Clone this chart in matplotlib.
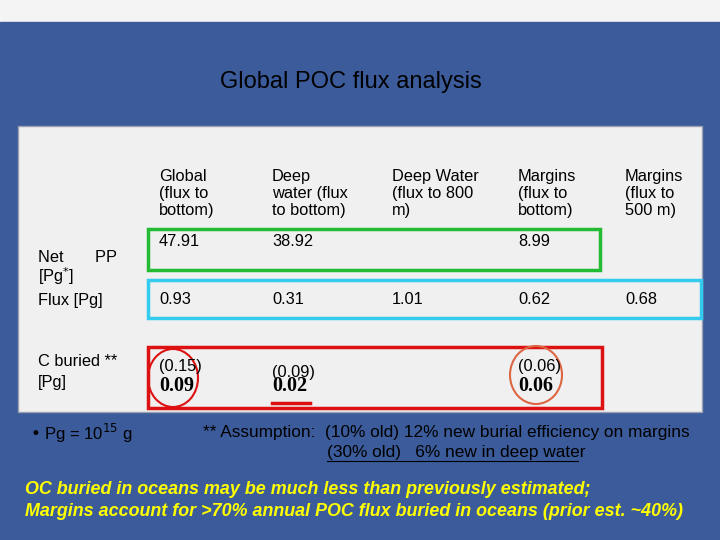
import matplotlib
matplotlib.use("Agg")
import matplotlib.pyplot as plt
from matplotlib.patches import Rectangle, Ellipse

title = "Global POC flux analysis"
headers = ["Global\n(flux to\nbottom)", "Deep\nwater (flux\nto bottom)", "Deep Water\n(flux to 800\nm)", "Margins\n(flux to\nbottom)", "Margins\n(flux to\n500 m)"]
net_pp = ["47.91", "38.92", "", "8.99", ""]
flux = ["0.93", "0.31", "1.01", "0.62", "0.68"]
cburied_old = ["(0.15)", "(0.09)", "", "(0.06)", ""]
cburied_new = ["0.09", "0.02", "", "0.06", ""]

fig = plt.figure(figsize=(7.2, 5.4), dpi=100)
fig.patch.set_facecolor("#3b5b9b")
ax = fig.add_axes([0, 0, 1, 1])
ax.set_xlim(0, 720); ax.set_ylim(540, 0); ax.axis("off")

ax.add_patch(Rectangle((0, 0), 720, 22, color="#f4f4f4"))
ax.add_patch(Rectangle((0, 22), 720, 518, color="#3b5b9b"))
ax.add_patch(Rectangle((18, 126), 684, 286, facecolor="#f0f0f0", edgecolor="#9aa0b0"))
ax.text(351, 82, title, ha="center", va="center", fontsize=17, family="Liberation Sans")

colx = [159, 272, 392, 518, 625]
f = dict(fontsize=11.8, family="Liberation Sans", color="black")
for x, h in zip(colx, headers):
    ax.text(x, 169, h, va="top", ha="left", linespacing=1.15, **f)
ax.text(38, 257, "Net       PP", va="center", **f)
ax.text(38, 276, "[Pg$^{*}$]", va="center", **f)
ax.text(38, 300, "Flux [Pg]", va="center", **f)
ax.text(38, 362, "C buried **", va="center", **f)
ax.text(38, 382, "[Pg]", va="center", **f)
for x, v in zip(colx, net_pp):
    ax.text(x, 241, v, va="center", **f)
for x, v in zip(colx, flux):
    ax.text(x, 300, v, va="center", **f)
for i, (x, a, b) in enumerate(zip(colx, cburied_old, cburied_new)):
    dy = 6 if i == 1 else 0
    ax.text(x, 366 + dy, a, va="center", **f)
    ax.text(x, 386, b, va="center", fontsize=14.5, family="Liberation Serif", fontweight="bold")

ax.add_patch(Rectangle((148, 229), 452, 41, fill=False, ec="#22bb33", lw=2.5))
ax.add_patch(Rectangle((148, 280), 553, 38, fill=False, ec="#33ccee", lw=2.5))
ax.add_patch(Rectangle((148, 347), 454, 61, fill=False, ec="#dd1111", lw=2.5))
ax.add_patch(Ellipse((173, 378), 50, 58, fill=False, ec="#dd1111", lw=1.5))
ax.add_patch(Ellipse((536, 375), 52, 58, fill=False, ec="#dd6644", lw=1.5))
ax.plot([272, 310], [403, 403], color="#dd1111", lw=2.5)

ax.text(30, 433, "• Pg = 10$^{15}$ g", va="center", fontsize=12, family="Liberation Sans", color="black")
ax.text(203, 433, "** Assumption:  (10% old) 12% new burial efficiency on margins", va="center", fontsize=12.4, family="Liberation Sans", color="black")
ax.text(327, 452, "(30% old)   6% new in deep water", va="center", fontsize=12.4, family="Liberation Sans", color="black")
ax.plot([327, 578], [461, 461], color="black", lw=0.8)
it = dict(fontsize=12.9, family="Liberation Sans", color="#ffff00", style="italic", fontweight="bold")
ax.text(25, 489, "OC buried in oceans may be much less than previously estimated;", va="center", **it)
ax.text(25, 512, "Margins account for >70% annual POC flux buried in oceans (prior est. ~40%)", va="center", **it)

fig.savefig("out.png", dpi=100, facecolor=fig.get_facecolor())
